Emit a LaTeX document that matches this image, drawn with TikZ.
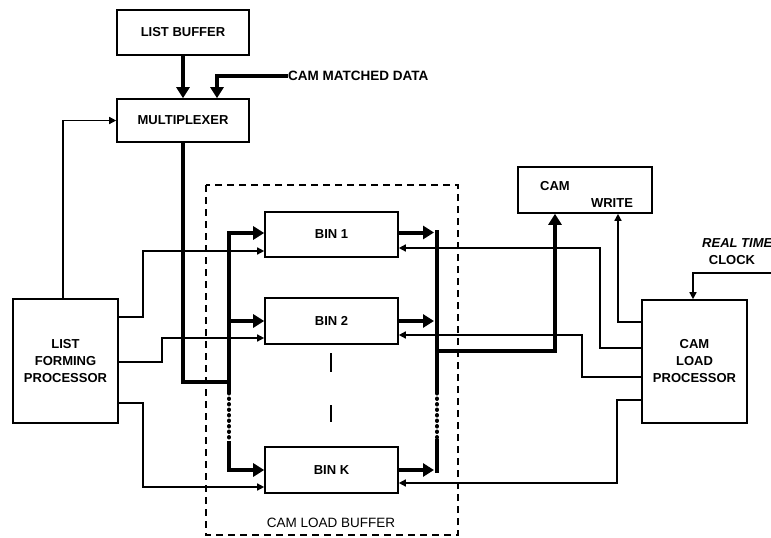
\documentclass[tikz,border=0pt]{standalone}
\usepackage{fontspec}
\setmainfont{Liberation Sans}
\usetikzlibrary{arrows.meta,calc}
\begin{document}
\begin{tikzpicture}[x=1pt,y=-1pt,
  box/.style={draw,line width=1.6pt,inner sep=0pt,align=center,
    font=\bfseries\fontsize{13}{17}\selectfont},
  tline/.style={line width=1.4pt},
  tarrow/.style={line width=1.4pt,-{Triangle[length=7pt,width=7pt]}},
  bline/.style={line width=4pt},
  barrow/.style={line width=4pt,-{Triangle[length=11pt,width=13pt]}},
  beads/.style={line width=4pt,line cap=round,dash pattern=on 0.5pt off 5pt},
  lbl/.style={inner sep=0pt,font=\bfseries\fontsize{13}{15}\selectfont}
]
\useasboundingbox (0,0) rectangle (771,538);

% boxes
\node[box,minimum width=132pt,minimum height=45pt] (lb) at (183,32.5) {LIST BUFFER};
\node[box,minimum width=132pt,minimum height=43pt] (mux) at (183,120.5) {MULTIPLEXER};
\node[box,minimum width=133pt,minimum height=45pt] (bin1) at (331.5,234.5) {BIN 1};
\node[box,minimum width=133pt,minimum height=46pt] (bin2) at (331.5,321) {BIN 2};
\node[box,minimum width=133pt,minimum height=46pt] (binK) at (331.5,470) {BIN K};
\node[box,minimum width=134pt,minimum height=46pt] (cam) at (585,190) {};
\node[lbl] (camt) at (555,186) {CAM};
\node[lbl] (camw) at (612,203) {WRITE};
\node[box,minimum width=105pt,minimum height=124pt] (lfp) at (65.5,361) {LIST\\FORMING\\PROCESSOR};
\node[box,minimum width=105pt,minimum height=123pt] (clp) at (694.5,361.5) {CAM\\LOAD\\PROCESSOR};

% dashed buffer region
\draw[line width=1.4pt,dash pattern=on 7pt off 5pt] (206,185) rectangle (458,535);
\node[lbl,font=\fontsize{13.5}{15}\selectfont] (buft) at (331,523) {CAM LOAD BUFFER};
\draw[line width=2pt,dash pattern=on 19pt off 33pt] (331,353) -- (331,422);

% inputs to multiplexer
\draw[barrow] (lb.south) -- (mux.north);
\node[lbl,anchor=west,font=\bfseries\fontsize{13.5}{15}\selectfont] (cmd) at (288,76) {CAM MATCHED DATA};
\draw[barrow] (cmd.west) -| ($(mux.north)+(34,0)$);
\draw[tarrow] ($(lfp.north)+(-2.5,0)$) |- (mux.west);

% left bus
\coordinate (muxJ) at (229,382);
\coordinate (lbT) at (229,233);
\coordinate (lbD1) at (229,393);
\coordinate (lbD2) at (229,441);
\draw[bline] (mux.south) |- (muxJ);
\draw[barrow] (lbD1) -- (lbT) -- (bin1.west |- lbT);
\draw[barrow] (lbT |- bin2.west) -- (bin2.west);
\draw[beads] (lbD1) -- (lbD2);
\draw[barrow] (lbD2) |- (binK.west);

% right bus
\coordinate (rbT) at (437,230);
\coordinate (rbD1) at (437,393);
\coordinate (rbD2) at (437,439);
\coordinate (rbB) at (437,473);
\coordinate (camJ) at (437,351);
\draw[bline] (rbT) -- (rbD1);
\draw[beads] (rbD1) -- (rbD2);
\draw[bline] (rbD2) -- (rbB);
\draw[barrow] ($(bin1.east)+(0,-2)$) -- (434,232.5);
\draw[barrow] (bin2.east) -- (434,321);
\draw[barrow] (binK.east) -- (434,470);
\draw[barrow] (camJ) -| ($(cam.south)+(-30,0)$);

% list forming processor to bins
\coordinate (la) at (143,251);
\coordinate (lb2) at (162,338);
\coordinate (lc) at (143,487);
\draw[tarrow] (lfp.east |- 0,317) -| (la) -- (bin1.west |- la);
\draw[tarrow] (lfp.east |- 0,362) -| (lb2) -- (bin2.west |- lb2);
\draw[tarrow] (lfp.east |- 0,403) -| (lc) -- (binK.west |- lc);

% cam load processor to bins and cam
\coordinate (ra) at (600,248);
\coordinate (rb) at (582,335);
\coordinate (rc) at (617,483);
\draw[tarrow] (clp.west |- 0,348) -| (ra) -- (bin1.east |- ra);
\draw[tarrow] (clp.west |- 0,377) -| (rb) -- (bin2.east |- rb);
\draw[tarrow] (clp.west |- 0,400) -| (rc) -- (binK.east |- rc);
\draw[tarrow] (clp.west |- 0,322) -| ($(cam.south)+(33,0)$);

% real time clock
\node[lbl,anchor=west,font=\bfseries\itshape\fontsize{13}{15}\selectfont] (rtc1) at (702,243) {REAL TIME};
\node[lbl] (rtc2) at (732,260) {CLOCK};
\coordinate (rtcE) at (771,273);
\draw[tarrow] (rtcE) -| ($(clp.north)+(-1.5,0)$);
\end{tikzpicture}
\end{document}
